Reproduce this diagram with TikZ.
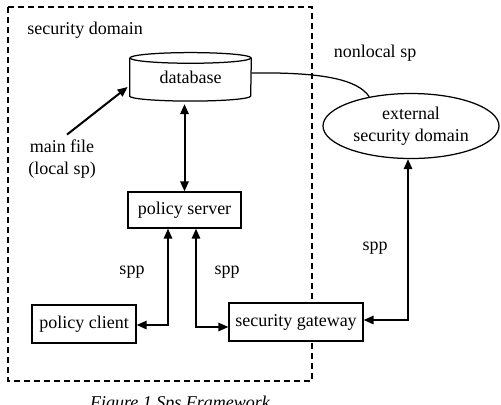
\documentclass[tikz,border=0pt]{standalone}
\usepackage{fontspec}
\setmainfont{Liberation Serif}
\usepackage{tikz}
\usetikzlibrary{arrows.meta,calc,positioning,shapes.geometric}
\tikzset{
  fbox/.style={draw,fill=white,line width=0.75pt,inner sep=0pt},
  link/.style={{Triangle[length=6pt,width=5pt]}-{Triangle[length=6pt,width=5pt]},line width=1.2pt},
  onearrow/.style={-{Triangle[length=6pt,width=5pt]},line width=1.2pt},
  lbl/.style={inner sep=0pt,align=center}
}

\begin{document}
\begin{tikzpicture}[x=0.6pt,y=-0.6pt,font=\fontsize{10.8}{13}\selectfont]
  \useasboundingbox (0,0) rectangle (501,404);
  \draw[line width=0.8pt,dash pattern=on 3.6pt off 2.4pt] (8,7) rectangle (312,381);
  \node[lbl,anchor=west] (sdom) at (27,30) {security domain};
  \node[lbl] (nonloc) at (375,53) {nonlocal sp};
  % database cylinder
  \node[inner sep=0pt,minimum width=72.6pt,minimum height=22.5pt] (db) at (190.5,77) {database};
  \draw[line width=0.75pt] (db.north west) -- (db.south west)
    arc[start angle=180,end angle=360,x radius=36.3pt,y radius=3pt] -- (db.north east);
  \draw[line width=0.75pt] (db.north) ellipse[x radius=36.3pt,y radius=3.2pt];
  \node[fbox,minimum width=67.8pt,minimum height=21.6pt] (ps) at (184.5,210) {policy server};
  \node[fbox,minimum width=62.4pt,minimum height=22.8pt] (pc) at (84,324) {policy client};
  \node[fbox,minimum width=80.4pt,minimum height=22.8pt] (sg) at (296,322) {security gateway};
  \node[draw,ellipse,line width=0.75pt,inner sep=0pt,minimum width=105.6pt,minimum height=39pt,align=center] (esd) at (411,126) {external\\security domain};
  \node[lbl] (mf) at (62,159) {main file\\(local sp)};
  \node[lbl] (spp1) at (132,272) {spp};
  \node[lbl] (spp2) at (227,272) {spp};
  \node[lbl] (spp3) at (375,248) {spp};
  % connectors
  \draw[onearrow] ([xshift=3pt,yshift=3pt]mf.north) -- ([xshift=-1.2pt,yshift=-6pt]db.west);
  \draw[link] ([yshift=-4.8pt]ps.north |- db.south) -- (ps.north);
  \draw[link] ([xshift=-9.9pt]ps.south) |- ([yshift=-0.6pt]pc.east);
  \draw[link] ([xshift=6.9pt]ps.south) |- ([yshift=-3pt]sg.west);
  \draw[link] ([yshift=1.2pt]sg.east) -| ([xshift=-1.8pt]esd.south);
  \draw[line width=0.75pt] ([yshift=2.4pt]db.east) .. controls (325,72) and (358,80) .. (esd.145);
  \begin{scope}
    \clip (0,0) rectangle (501,404);
    \node[lbl,anchor=base,font=\fontsize{10.8}{13}\selectfont\itshape] (cap) at (180,408) {Figure 1 Sps Framework};
  \end{scope}
\end{tikzpicture}
\end{document}
